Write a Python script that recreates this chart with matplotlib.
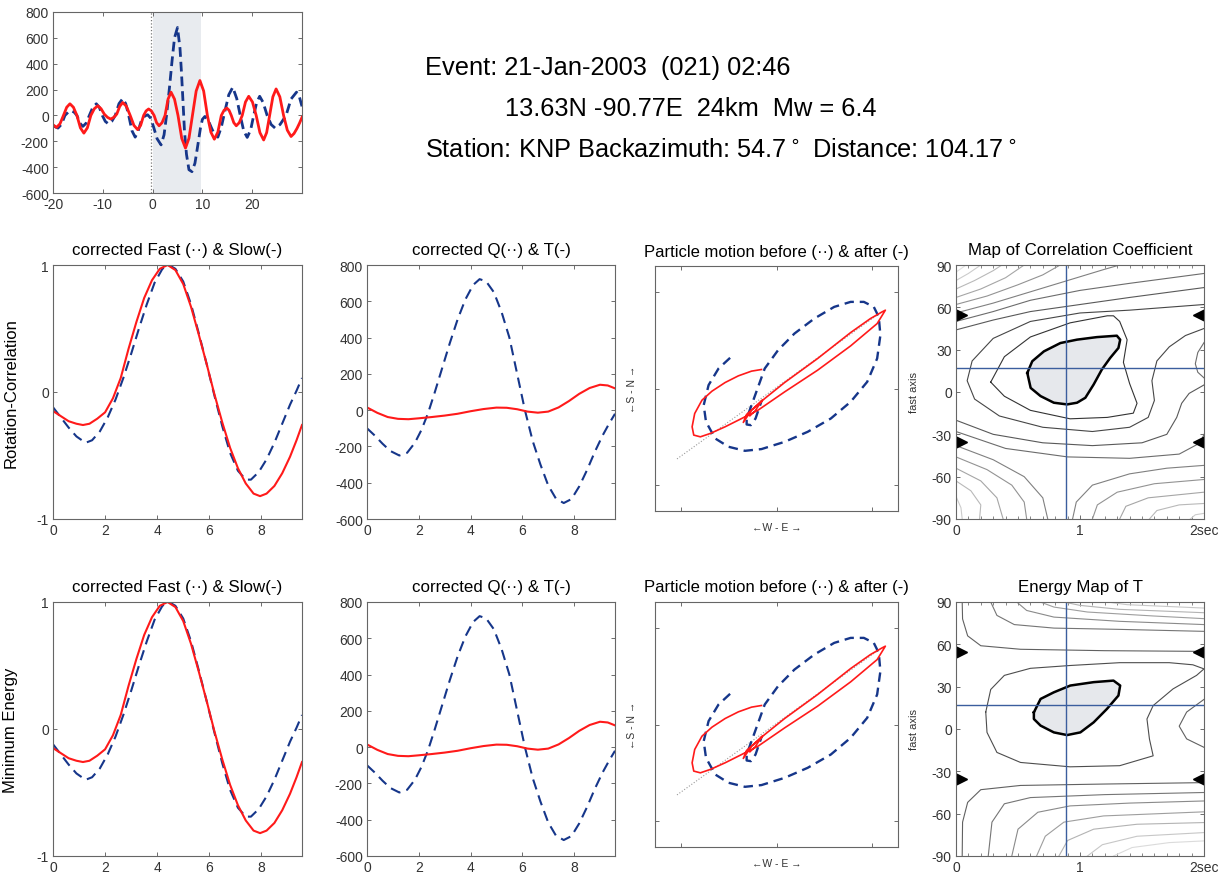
import numpy as np
import matplotlib
matplotlib.use('Agg')
import matplotlib.pyplot as plt
from matplotlib.ticker import MultipleLocator

plt.rcParams['font.family'] = ['Liberation Sans', 'DejaVu Sans']
plt.rcParams['axes.unicode_minus'] = False

# ---------------- data ----------------
# top-left overview trace (time in s, amplitude)
top_t_slow = [-20, -19.3, -18.6, -17.9, -17.25, -16.6, -15.9, -15.2, -14.5, -13.8, -13.1, -12.4, -11.7,
              -11.0, -10.35, -9.7, -9.05, -8.4, -7.8, -7.2, -6.6, -6.0, -5.25, -4.5, -3.75, -3.0, -2.4,
              -1.8, -1.3, -0.8, -0.25, 0.3, 0.8, 1.3, 1.9, 2.5, 3.1, 3.7, 4.4, 5.1, 5.85, 6.6, 7.3,
              8.0, 8.75, 9.5, 10.25, 11.0, 11.7, 12.4, 13.1, 13.8, 14.35, 14.9, 15.35, 15.8, 16.3,
              16.8, 17.4, 18.0, 18.65, 19.3, 20.05, 20.8, 21.55, 22.3, 22.9, 23.5, 24.15, 24.8,
              25.55, 26.3, 27.05, 27.8, 28.4, 29.0, 29.5, 30.0]
top_v_slow = [-72, -93, -65, 0, 63, 90, 63, 0, -96, -137, -96, 0, 52,
              75, 52, 10, -15, -28, -15, 10, 70, 100, 70, 0, -77, -110, -77,
              0, 35, 50, 35, 0, -56, -80, -56, 0, 126, 180, 126, 0, -177, -253, -177,
              0, 189, 270, 189, 0, -129, -184, -129, 0, 40, 57, 40, 0, -56,
              -80, -56, 0, 104, 148, 104, 0, -133, -190, -133, 0, 144, 205,
              144, 0, -114, -163, -140, -100, -60, -15]
top_t_fast = [-20, -19.0, -18.3, -17.6, -16.95, -16.3, -15.75, -15.2, -14.6, -14.0, -13.35, -12.7, -12.0,
              -11.3, -10.7, -10.1, -9.5, -8.9, -8.2, -7.5, -6.75, -6.0, -5.4, -4.8, -4.15, -3.5, -2.9,
              -2.3, -1.6, -1.0, -0.4, 0.2, 0.9, 1.7, 2.3, 2.8, 3.4, 3.9, 4.4, 5.0, 5.5, 5.8, 6.1, 6.4,
              6.8, 7.3, 7.9, 8.5, 9.0, 9.6, 10.0, 10.5, 11.2, 11.8, 12.4, 13.1, 13.8, 14.5, 15.3, 16.1,
              16.9, 17.6, 18.3, 19.0, 19.7, 20.3, 20.9, 21.5, 22.2, 23.0, 23.8, 24.6, 25.6, 26.8, 27.8,
              28.9, 29.5, 30.0]
top_v_fast = [-80, -98, -69, 0, 25, 36, 25, 0, -60, -85, -60, 0, 63,
              90, 63, 0, -46, -65, -46, 0, 91, 130, 91, 0, -118, -168, -120,
              -45, -5, 5, -20, -90, -180, -228, -150, 0, 220, 420, 600, 680, 520, 330, 110, -120,
              -300, -420, -435, -370, -250, -100, -30, -8, -40, -95, -145, -168, -90, 30, 160, 218,
              130, 0, -120, -170, -110, 0, 100, 148, 100, 0, -70, -98, -70, 0, 127,
              180, 140, 70]
window = [0, 9.8]
pick_time = -0.3

# corrected fast / slow (normalised)
fs_t_slow = [0, 0.3, 0.6, 0.9, 1.15, 1.4, 1.7, 2.0, 2.3, 2.6, 2.9, 3.2, 3.5, 3.8, 4.1, 4.4, 4.7, 5.0,
             5.3, 5.6, 5.9, 6.2, 6.5, 6.8, 7.1, 7.4, 7.7, 7.95, 8.2, 8.5, 8.8, 9.1, 9.35, 9.56]
fs_slow = [-0.15, -0.19, -0.23, -0.25, -0.26, -0.25, -0.21, -0.16, -0.05, 0.11, 0.34, 0.55, 0.74,
           0.88, 0.97, 1.0, 0.96, 0.85, 0.67, 0.45, 0.22, -0.02, -0.24, -0.44, -0.60, -0.72,
           -0.80, -0.82, -0.80, -0.74, -0.64, -0.51, -0.38, -0.26]
fs_t_fast = [0, 0.3, 0.6, 0.9, 1.25, 1.5, 1.8, 2.1, 2.4, 2.7, 3.0, 3.3, 3.6, 3.9, 4.2, 4.45, 4.7, 5.0,
             5.3, 5.6, 5.9, 6.2, 6.5, 6.8, 7.1, 7.4, 7.6, 7.9, 8.2, 8.5, 8.8, 9.1, 9.35, 9.56]
fs_fast = [-0.12, -0.20, -0.28, -0.35, -0.40, -0.38, -0.31, -0.20, -0.06, 0.11, 0.30, 0.50, 0.69,
           0.86, 0.97, 1.0, 0.97, 0.87, 0.69, 0.46, 0.22, -0.03, -0.27, -0.48, -0.62, -0.69,
           -0.69, -0.63, -0.53, -0.40, -0.25, -0.10, 0.01, 0.11]

# corrected Q / T
qt_t_q = [0, 0.3, 0.6, 0.9, 1.25, 1.55, 1.85, 2.1, 2.35, 2.6, 2.9, 3.2, 3.5, 3.8, 4.1, 4.35, 4.6, 4.9,
          5.2, 5.5, 5.8, 6.1, 6.4, 6.7, 7.0, 7.3, 7.6, 7.9, 8.2, 8.5, 8.8, 9.1, 9.35, 9.58]
qt_q = [-100, -140, -185, -225, -250, -235, -180, -110, -20, 90, 230, 370, 500, 610, 690, 722, 710, 650,
        540, 400, 200, 0, -170, -300, -415, -488, -512, -490, -420, -330, -230, -140, -75, -20]
qt_t_t = [0, 0.4, 0.8, 1.2, 1.6, 2.0, 2.5, 3.0, 3.5, 4.0, 4.5, 5.0, 5.4, 5.8, 6.2, 6.6, 7.0, 7.4, 7.8,
          8.2, 8.6, 9.0, 9.3, 9.58]
qt_t = [15, -15, -38, -48, -50, -45, -38, -30, -20, -6, 6, 14, 13, 5, -8, -14, -8, 15, 50,
        90, 122, 140, 136, 120]

# particle motion (E, N)
pm_before_e = [-48.5, -60.6, -71.0, -76.1, -73.7, -64.1, -50.2, -33.0, -15.7, 8.5, 32.6, 56.8, 77.5,
               94.8, 105.2, 108.6, 106.9, 101.7, 91.3, 77.5, 60.3, 39.5, 18.8, 1.6, -12.3, -19.2,
               -26.1, -31.2, -31.2, -26.8, -21.9, -15.7]
pm_before_n = [31.8, 20.7, 3.5, -17.3, -34.5, -51.8, -60.4, -64.6, -62.8, -55.3, -44.9, -31.1, -13.8,
               6.9, 31.1, 55.3, 74.2, 84.6, 89.8, 89.8, 84.6, 72.5, 57.0, 39.7, 20.7, 1.7,
               -17.3, -31.1, -37.3, -38.0, -31.1, -13.1]
pm_after_e = [-15.7, -26.1, -39.9, -53.7, -67.5, -77.9, -85.5, -88.2, -86.5, -79.6, -69.2, -53.7,
              -36.4, -19.2, 8.5, 43.0, 77.5, 105.2, 113.8, 110.3, 98.2, 77.5, 43.0, 8.5,
              -12.3, -26.1, -34.7, -31.3, -20.9, -15.0, -22.6, -27.8]
pm_after_n = [19.7, 18.0, 13.1, 6.2, -2.8, -12.1, -25.9, -39.7, -48.3, -50.1, -46.6, -39.7,
              -31.1, -22.4, -3.5, 19.0, 44.2, 67.3, 81.2, 79.4, 72.5, 58.0, 31.1, 6.2,
              -10.4, -22.4, -35.2, -26.9, -17.9, -12.1, -23.5, -28.3]
pm_axis_e = [-104, 105]
pm_axis_n = [-73, 76]

# grid search result (delay s, fast axis deg) and backazimuth markers
best_dt = 0.89
best_phi = 17
marker_phi = [54.7, -35.3]

# correlation map: innermost (filled) contour and other contours (x, y, level)
corr_core_x = [0.575, 0.615, 0.709, 0.842, 0.976, 1.136, 1.297, 1.324, 1.310, 1.243, 1.176, 1.110,
               1.043, 0.976, 0.896, 0.789, 0.682, 0.602, 0.575]
corr_core_y = [13.5, 21.8, 28.8, 34.7, 37.1, 38.9, 39.9, 37.1, 31.2, 24.1, 15.9, 5.3,
               -4.1, -7.6, -8.8, -7.6, -2.9, 2.9, 13.5]
corr_lines = [
    ([0.28, 0.39, 0.60, 0.92, 1.22, 1.27, 1.32, 1.38, 1.35, 1.40, 1.46, 1.43, 1.22, 0.92, 0.60, 0.39, 0.28],
     [7, 25, 39, 49, 54, 54, 50, 37, 21, 6, -8, -15, -18, -19, -13, -3, 7], 1),
    ([2.0, 1.7, 1.4, 1.0, 0.6, 0.3, 0.13, 0.09, 0.15, 0.35, 0.7, 1.1, 1.4, 1.55, 1.6, 1.58, 1.62, 1.72, 1.85, 2.0],
     [62, 60, 58, 56, 50, 38, 22, 8, -5, -17, -25, -28, -25, -18, -6, 8, 22, 32, 40, 45], 2),
    ([0, 0.3, 0.7, 1.1, 1.5, 1.7, 1.78, 1.82, 1.88, 2.0], [-20, -30, -36, -38, -36, -30, -18, -8, -1, 5], 3),
    ([0, 0.3, 0.6, 1.0, 1.4, 2.0], [44, 51, 57, 62, 67, 74], 3),
    ([2.0, 1.95, 1.93, 1.95, 2.0], [35, 28, 20, 14, 10], 4),
    ([0, 0.4, 0.9, 1.4, 1.8, 1.97, 2.0], [-28, -40, -46, -47, -44, -36, -30], 4),
    ([0, 0.3, 0.6, 1.0, 1.4, 2.0], [50, 57, 65, 72, 77, 84], 4),
    ([0, 0.3, 0.6, 0.9, 1.2, 1.32], [56, 63, 71, 79, 87, 90], 5),
    ([0, 0.25, 0.5, 0.7, 0.84], [62, 68, 76, 83, 90], 6),
    ([0, 0.2, 0.4, 0.55], [67, 73, 81, 90], 7),
    ([0, 0.15, 0.3, 0.37], [73, 79, 86, 90], 8),
    ([0, 0.1, 0.2], [79, 84, 90], 9),
    ([0, 0.05, 0.08], [85, 88, 90], 10),
    ([0, 0.3, 0.55, 0.7, 0.74], [-38, -48, -60, -75, -90], 5),
    ([0, 0.25, 0.45, 0.55, 0.57], [-46, -55, -66, -78, -90], 6),
    ([0, 0.2, 0.33, 0.38], [-54, -63, -75, -90], 7),
    ([0, 0.12, 0.2, 0.19], [-63, -70, -80, -90], 8),
    ([0, 0.04, 0.05], [-74, -82, -90], 9),
    ([0.94, 0.97, 1.1, 1.4, 1.7, 2.0], [-90, -78, -66, -58, -54, -52], 5),
    ([1.10, 1.14, 1.3, 1.6, 2.0], [-90, -80, -71, -65, -62], 6),
    ([1.32, 1.37, 1.55, 2.0], [-90, -81, -75, -71], 7),
    ([1.56, 1.62, 1.8, 2.0], [-90, -84, -80, -79], 8),
    ([1.89, 1.93, 2.0], [-90, -87, -86], 9),
]

# energy map of T
energy_core_x = [0.628, 0.682, 0.789, 0.922, 1.110, 1.270, 1.324, 1.310, 1.217, 1.110, 1.003, 0.896,
                 0.789, 0.682, 0.628, 0.628]
energy_core_y = [11.8, 21.3, 26.0, 30.8, 33.2, 34.3, 30.8, 23.7, 14.2, 4.7, -2.4, -4.3,
                 -2.4, 2.4, 7.1, 11.8]
energy_lines = [
    ([0.24, 0.28, 0.39, 0.60, 0.92, 1.32, 1.72, 1.91, 2.0, 1.94, 1.75, 1.59, 1.54, 1.56, 1.59, 1.32, 0.92,
      0.52, 0.33, 0.25, 0.24],
     [12, 28, 38, 43, 45, 47, 47, 45.5, 42.6, 38, 28.4, 16.6, 7.1, -7.1, -19, -26, -26.8,
      -23.7, -16.6, -2.4, 12], 1),
    ([2.0, 1.86, 1.80, 1.86, 2.0], [21, 12, 2, -7, -13], 2),
    ([0.05, 0.053, 0.094, 0.20, 0.52, 1.2, 2.0], [90, 78, 66, 59, 56.5, 55.5, 55], 2),
    ([0.05, 0.053, 0.094, 0.20, 0.52, 1.2, 2.0], [-90, -66, -52, -43, -40, -39, -38], 2),
    ([0.28, 0.33, 0.47, 0.79, 1.32, 2.0], [90, 80.5, 74, 71.5, 70.6, 69.2], 3),
    ([0.26, 0.29, 0.39, 0.6, 1.2, 2.0], [-90, -66, -53, -48.6, -46.5, -45], 3),
    ([0.49, 0.57, 0.79, 1.32, 2.0], [90, 84, 79.3, 76.3, 74], 4),
    ([0.45, 0.50, 0.66, 0.92, 1.4, 2.0], [-90, -71, -59, -54.5, -52.5, -51], 4),
    ([0.68, 0.79, 1.06, 1.59, 2.0], [90, 86.4, 82.9, 80.1, 78.2], 5),
    ([0.65, 0.72, 0.87, 1.19, 2.0], [-90, -76, -66, -61.6, -58.7], 5),
    ([0.87, 1.0, 1.32, 2.0], [90, 87.6, 84.8, 82.4], 6),
    ([0.83, 0.90, 1.11, 1.46, 2.0], [-90, -79, -71, -67.5, -66.3], 6),
    ([1.22, 1.38, 2.0], [90, 88.1, 85.7], 7),
    ([1.06, 1.18, 1.46, 2.0], [-90, -82, -76, -73.4], 7),
    ([1.27, 1.42, 1.72, 2.0], [-90, -84, -80.5, -79.3], 8),
]

# ---------------- layout helpers ----------------
W, H = 1225, 878
fig = plt.figure(figsize=(W / 100, H / 100), dpi=100)

RED = '#ff1a1a'
BLUE = '#16368a'
CROSS = '#3b5e9e'


def add_ax(l, t, r, b):
    return fig.add_axes([l / W, 1 - b / H, (r - l) / W, (b - t) / H])


def style(ax):
    for s in ax.spines.values():
        s.set_color('#666666')
        s.set_linewidth(0.8)
    ax.tick_params(direction='in', top=True, right=True, length=3, width=0.6, color='#555555',
                   labelsize=10, labelcolor='#333333', pad=3)


def shade(level, base=0.15, step=0.08):
    g = min(base + step * (level - 1), 0.88)
    return (g, g, g)


# ---------------- header ----------------
fig.text(425 / W, 1 - 68 / H, 'Event: 21-Jan-2003  (021) 02:46', fontsize=18.3, va='center')
fig.text(505 / W, 1 - 109 / H, '13.63N -90.77E  24km  Mw = 6.4', fontsize=18.3, va='center')
fig.text(425 / W, 1 - 150 / H,
         'Station: KNP Backazimuth: 54.7$^\\circ$ Distance: 104.17$^\\circ$', fontsize=18.3, va='center')

# ---------------- top-left overview ----------------
ax0 = add_ax(53, 13, 302, 194)
ax0.axvspan(window[0], window[1], color='#e8ebef', lw=0)
ax0.axvline(pick_time, color='#777777', ls=':', lw=0.9)
ax0.plot(top_t_fast, top_v_fast, color=BLUE, ls='--', lw=2.0, dashes=(3.5, 1.8))
ax0.plot(top_t_slow, top_v_slow, color=RED, lw=2.0)
ax0.set_xlim(-20, 30)
ax0.set_ylim(-600, 800)
ax0.set_xticks([-20, -10, 0, 10, 20])
ax0.set_yticks(range(-600, 801, 200))
style(ax0)

# ---------------- two rows of panels ----------------
rows = [
    dict(t=266, b=520, pm_t=267, pm_b=512, ylabel='Rotation-Correlation',
         map_title='Map of Correlation Coefficient', core=(corr_core_x, corr_core_y), lines=corr_lines,
         base=0.2, step=0.075),
    dict(t=603, b=857, pm_t=603, pm_b=848, ylabel='Minimum Energy',
         map_title='Energy Map of T', core=(energy_core_x, energy_core_y), lines=energy_lines,
         base=0.3, step=0.08),
]

TITLE_FS = 12.2

for row in rows:
    t, b = row['t'], row['b']

    # fast / slow
    ax1 = add_ax(53, t, 302, b)
    ax1.plot(fs_t_fast, fs_fast, color=BLUE, ls='--', lw=1.5, dashes=(5, 3))
    ax1.plot(fs_t_slow, fs_slow, color=RED, lw=1.5)
    ax1.set_xlim(0, 9.56)
    ax1.set_ylim(-1, 1)
    ax1.set_xticks([0, 2, 4, 6, 8])
    ax1.set_yticks([-1, 0, 1])
    style(ax1)
    ax1.set_title('corrected Fast (\u00b7\u00b7) & Slow(-)', fontsize=TITLE_FS, pad=8)
    ax1.set_ylabel(row['ylabel'], fontsize=12)
    ax1.yaxis.set_label_coords(-0.14, 0.5)

    # Q / T
    ax2 = add_ax(367, t, 615, b)
    ax2.plot(qt_t_q, qt_q, color=BLUE, ls='--', lw=1.5, dashes=(5, 3))
    ax2.plot(qt_t_t, qt_t, color=RED, lw=1.5)
    ax2.set_xlim(0, 9.58)
    ax2.set_ylim(-600, 800)
    ax2.set_xticks([0, 2, 4, 6, 8])
    ax2.set_yticks(range(-600, 801, 200))
    style(ax2)
    ax2.set_title('corrected Q(\u00b7\u00b7) & T(-)', fontsize=TITLE_FS, pad=8)

    # particle motion
    ax3 = add_ax(655, row['pm_t'], 898, row['pm_b'])
    ax3.plot(pm_axis_e, pm_axis_n, color='#999999', ls=':', lw=0.8)
    ax3.plot(pm_before_e, pm_before_n, color=BLUE, ls='--', lw=1.7, dashes=(4, 2.5))
    ax3.plot(pm_after_e, pm_after_n, color=RED, lw=1.2)
    ax3.set_xlim(-127, 127)
    ax3.set_ylim(-127, 127)
    ax3.set_xticks([-100, 0, 100])
    ax3.set_yticks([-100, 0, 100])
    ax3.set_xticklabels([])
    ax3.set_yticklabels([])
    style(ax3)
    ax3.set_title('Particle motion before (\u00b7\u00b7) & after (-)', fontsize=12,
                  pad=8 + (t - row['pm_t']) * 0.72)
    ax3.set_xlabel('\u2190W - E \u2192', fontsize=7.5, color='#333333')
    ax3.xaxis.set_label_coords(0.5, -0.045)
    ax3.set_ylabel('\u2190S - N \u2192', fontsize=7.5, color='#333333')
    ax3.yaxis.set_label_coords(-0.075, 0.5)

    # grid-search map
    ax4 = add_ax(956, t, 1204, b)
    for xs, ys, lev in row['lines']:
        ax4.plot(xs, ys, color=shade(lev, row['base'], row['step']), lw=0.8)
    cx, cy = row['core']
    ax4.fill(cx, cy, color='#e6e8ec', lw=0)
    ax4.plot(cx, cy, color='black', lw=1.8)
    ax4.axvline(best_dt, color=CROSS, lw=1.0)
    ax4.axhline(best_phi, color=CROSS, lw=1.0)
    ax4.plot([0.04] * len(marker_phi), marker_phi, ls='none', marker='>', color='black', ms=8)
    ax4.plot([1.96] * len(marker_phi), marker_phi, ls='none', marker='<', color='black', ms=8)
    ax4.set_xlim(0, 2)
    ax4.set_ylim(-90, 90)
    ax4.set_xticks([0, 1, 2])
    ax4.set_xticklabels(['0', '1', '2sec'])
    ax4.set_yticks(range(-90, 91, 30))
    ax4.xaxis.set_minor_locator(MultipleLocator(0.1))
    style(ax4)
    ax4.tick_params(which='minor', direction='in', top=True, length=2, width=0.5, color='#555555')
    ax4.set_title(row['map_title'], fontsize=TITLE_FS, pad=8)
    ax4.set_ylabel('fast axis', fontsize=8, color='#333333')
    ax4.yaxis.set_label_coords(-0.15, 0.5)

fig.savefig('out.png', dpi=100)
